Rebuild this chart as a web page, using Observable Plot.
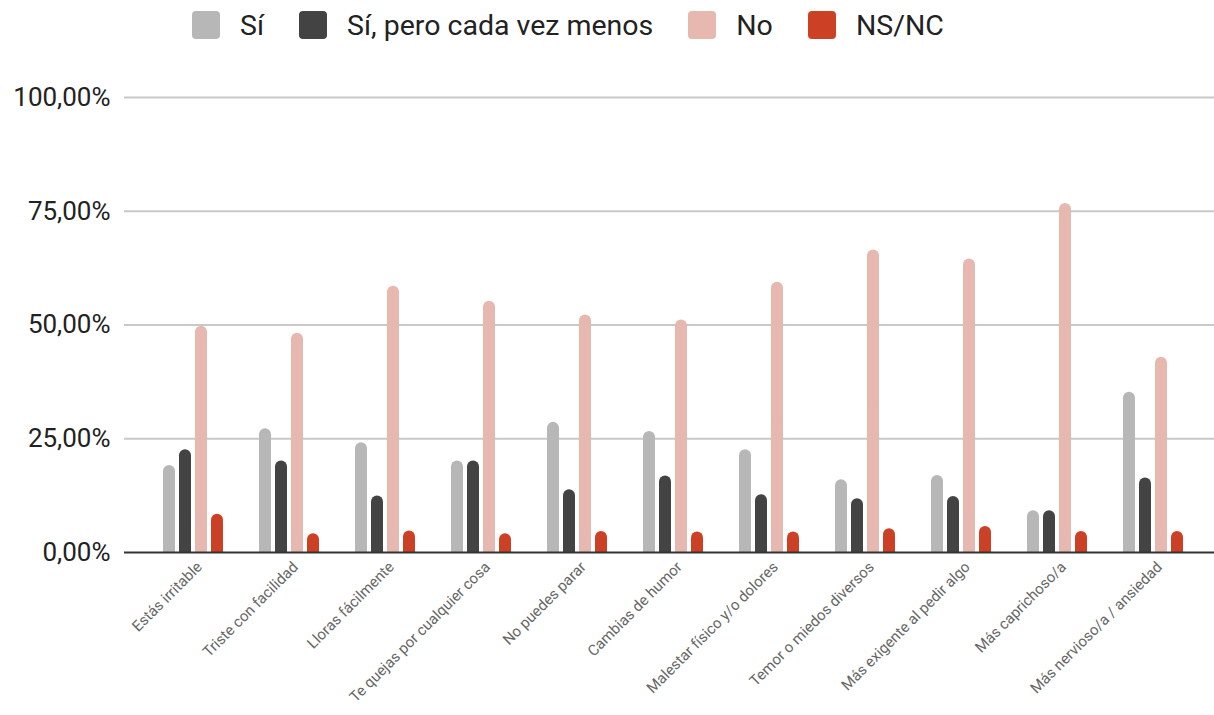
<!DOCTYPE html>
<html><head><meta charset="utf-8">
<script src="https://cdn.jsdelivr.net/npm/d3@7"></script>
<script src="https://cdn.jsdelivr.net/npm/@observablehq/plot@0.6"></script>
<style>
body{margin:0;background:#fff;font-family:Roboto,sans-serif;}
#legend{height:50px;position:relative;display:flex;align-items:center;padding-left:192px;font-size:28.5px;color:#222;}
#legend .item{display:flex;align-items:center;margin-right:35px;}
#legend .sw{width:28px;height:28px;border-radius:4px;margin-right:20px;}
#chart svg{display:block;}
</style>
</head><body>
<div id="legend"></div>
<div id="chart"></div>
<script>
const categories = ["Estás irritable","Triste con facilidad","Lloras fácilmente","Te quejas por cualquier cosa","No puedes parar","Cambias de humor","Malestar físico y/o dolores","Temor o miedos diversos","Más exigente al pedir algo","Más caprichoso/a","Más nervioso/a / ansiedad"];
const seriesNames = ["Sí","Sí, pero cada vez menos","No","NS/NC"];
const colors = ["#b7b7b7","#434343","#e6b8af","#cc4125"];
const si      = [19.1, 27.2, 24.1, 20.1, 28.6, 26.6, 22.6, 16.0, 16.9, 9.2, 35.2];
const siMenos = [22.6, 20.1, 12.4, 20.1, 13.8, 16.8, 12.7, 11.8, 12.3, 9.2, 16.4];
const no      = [49.7, 48.2, 58.5, 55.2, 52.2, 51.1, 59.4, 66.5, 64.5, 76.7, 42.9];
const nsnc    = [8.4, 4.1, 4.7, 4.1, 4.6, 4.5, 4.5, 5.2, 5.7, 4.6, 4.6];
const yTicks = [0, 25, 50, 75, 100];

const seriesValues = [si, siMenos, no, nsnc];

const legend = document.getElementById("legend");
seriesNames.forEach((s, j) => {
  const it = document.createElement("div"); it.className = "item";
  const sw = document.createElement("div"); sw.className = "sw"; sw.style.background = colors[j];
  const t = document.createElement("span"); t.textContent = s;
  it.appendChild(sw); it.appendChild(t); legend.appendChild(it);
});

const W = 1214, H = 665;
const xRange = [129, 1217], padIn = 0.37, padOut = 0.325;
const band = d3.scaleBand().domain(categories).range(xRange).paddingInner(padIn).paddingOuter(padOut).align(0.5).round(true);
const bw = band.bandwidth();
const barW = 12;
const sub = Math.round((bw - barW) / 3);

const fmt = d => d.toFixed(2).replace(".", ",") + "%";
const marks = [
  Plot.ruleY(yTicks.filter(d => d > 0), {stroke: "#c8c8c8", strokeWidth: 2})
];
seriesNames.forEach((s, j) => {
  const rows = categories.map((c, i) => ({cat: c, value: seriesValues[j][i]}));
  const insetLeft = j * sub, insetRight = bw - j * sub - barW;
  marks.push(Plot.barY(rows, {x: "cat", y: "value", fill: colors[j], rx: barW / 2, insetLeft, insetRight}));
  marks.push(Plot.barY(rows, {x: "cat", y: d => d.value / 2, fill: colors[j], insetLeft, insetRight}));
});
marks.push(Plot.ruleY([0], {stroke: "#333", strokeWidth: 2}));

const hasAxisMarks = typeof Plot.axisX === "function";
if (hasAxisMarks) {
  marks.push(Plot.axisX({tickRotate: -45, tickSize: 0, tickPadding: 12, dx: 6, fontSize: 15, fill: "#666", label: null}));
  marks.push(Plot.axisY({ticks: yTicks, tickFormat: fmt, tickSize: 0, tickPadding: 14, fontSize: 26, fill: "#222", label: null}));
}

const chart = Plot.plot({
  width: W, height: H,
  marginTop: 47, marginBottom: 163, marginLeft: 124, marginRight: 0,
  style: {fontFamily: "Roboto, sans-serif", background: "#fff", overflow: "visible"},
  x: {domain: categories, range: xRange, paddingInner: padIn, paddingOuter: padOut, align: 0.5, round: true, label: null, tickRotate: -45, tickSize: 0, tickPadding: 12},
  y: {domain: [0, 100], ticks: yTicks, tickFormat: fmt, label: null, tickSize: 0, tickPadding: 14},
  marks
});
document.getElementById("chart").appendChild(chart);
</script>
</body></html>
